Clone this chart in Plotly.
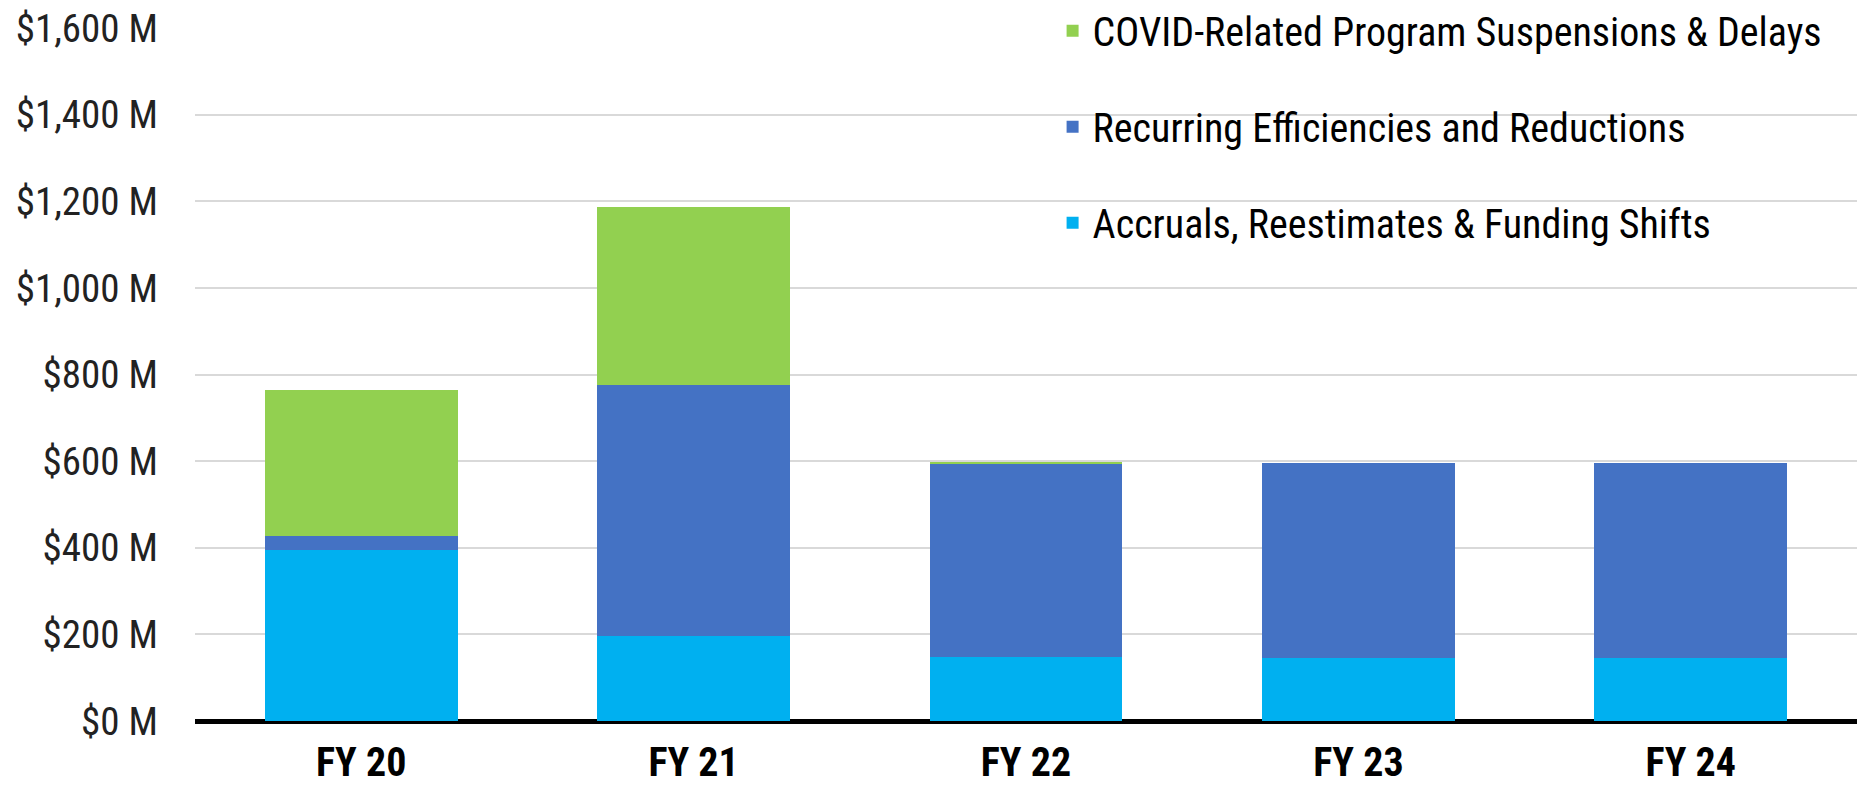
import plotly.graph_objects as go

categories = ["FY 20", "FY 21", "FY 22", "FY 23", "FY 24"]
accruals = [394, 196, 147, 145, 145]
recurring = [33, 579, 446, 450, 450]
covid = [338, 412, 6, 0, 0]
tick_vals = [0, 200, 400, 600, 800, 1000, 1200, 1400, 1600]
tick_text = ["$0 M", "$200 M", "$400 M", "$600 M", "$800 M", "$1,000 M", "$1,200 M", "$1,400 M", "$1,600 M"]

FONT = "Liberation Sans Narrow, Arial Narrow, Roboto Condensed, Liberation Sans, sans-serif"

series = [
    ("Accruals, Reestimates & Funding Shifts", accruals, "#00B0F0", 3),
    ("Recurring Efficiencies and Reductions", recurring, "#4472C4", 2),
    ("COVID-Related Program Suspensions & Delays", covid, "#92D050", 1),
]

fig = go.Figure()
for i, (name, vals, col, rank) in enumerate(series):
    fig.add_trace(go.Bar(
        x=categories, y=vals, name=name, legendgroup=f"g{i}", legendrank=rank,
        marker=dict(color=col, line=dict(width=0)),
        width=0.58,
    ))

fig.update_layout(
    width=1857, height=786,
    barmode="stack",
    plot_bgcolor="white", paper_bgcolor="white",
    margin=dict(l=195, r=0, t=28, b=65, autoexpand=False),
    font=dict(family=FONT, color="black"),
    showlegend=True,
    legend=dict(
        x=0.516, y=1.043, xanchor="left", yanchor="top",
        traceorder="grouped", tracegroupgap=41,
        font=dict(size=40, family=FONT, color="black"),
        bgcolor="rgba(255,255,255,0)",
        itemwidth=30,
    ),
    xaxis=dict(
        range=[-0.5, 4.5],
        automargin=False,
        showgrid=False,
        showline=False,
        ticks="",
        tickfont=dict(size=40, family=FONT, color="black", weight="bold"),
        ticklabelstandoff=14,
    ),
    yaxis=dict(
        range=[0, 1600],
        automargin=False,
        tickvals=tick_vals, ticktext=tick_text,
        showgrid=True, gridcolor="#d9d9d9", gridwidth=2,
        zeroline=True, zerolinecolor="black", zerolinewidth=5,
        showline=False, ticks="",
        tickfont=dict(size=39, family=FONT, color="#222222"),
        ticklabelstandoff=36,
    ),
)

fig.write_html(
    "out.html",
    config={"displayModeBar": False},
    post_script="document.body.style.margin='0';document.body.style.overflow='hidden';",
)
